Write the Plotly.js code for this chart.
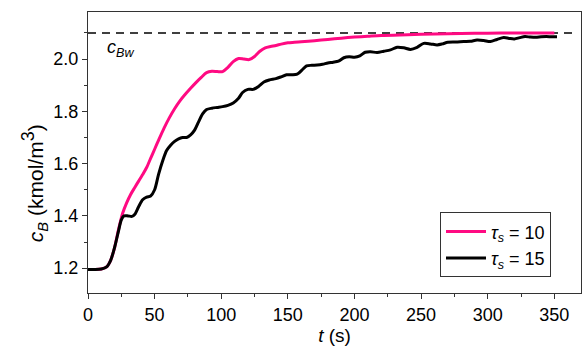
<!DOCTYPE html>
<html>
<head>
<meta charset="utf-8">
<script src="https://cdn.plot.ly/plotly-3.0.1.min.js"></script>
<style>html,body{margin:0;padding:0;background:#fff;}#chart{width:582px;height:351px;}</style>
</head>
<body>
<div id="chart"></div>
<script>
// tau_s = 10 series
const tPink = [0,5,10,14,17,20,23,26,29,32,35,38,41,44,47,50,53,57,61,65,69,73,77,81,85,89,93,97,101,105,109,113,117,121,125,129,133,137,141,145,150,155,160,170,180,190,200,210,220,240,260,280,300,320,340,350];
const cPink = [1.195,1.195,1.197,1.205,1.23,1.28,1.35,1.41,1.45,1.482,1.508,1.533,1.558,1.585,1.62,1.655,1.69,1.735,1.775,1.81,1.84,1.865,1.888,1.91,1.93,1.948,1.953,1.952,1.952,1.968,1.99,2.002,2.0,1.998,2.01,2.03,2.043,2.048,2.052,2.057,2.062,2.064,2.066,2.07,2.075,2.08,2.084,2.087,2.09,2.093,2.096,2.098,2.099,2.1,2.1,2.1];
// tau_s = 15 series
const tBlack = [0,5,10,14,17,20,23,25,27,30,33,35,38,41,44,47,50,53,56,59,62,65,68,71,74,77,80,83,86,89,93,97,101,105,109,113,116,120,124,128,132,136,141,145,149,153,157,161,164,168,172,176,180,184,188,192,196,200,204,208,212,217,222,227,232,237,242,247,252,257,262,266,270,276,282,287,292,297,302,307,312,316,320,324,328,332,336,340,344,348,352];
const cBlack = [1.195,1.195,1.197,1.205,1.23,1.28,1.345,1.385,1.40,1.40,1.398,1.405,1.435,1.462,1.472,1.476,1.50,1.56,1.61,1.65,1.67,1.685,1.695,1.70,1.70,1.71,1.728,1.76,1.79,1.807,1.812,1.815,1.818,1.823,1.832,1.85,1.872,1.884,1.884,1.895,1.912,1.92,1.925,1.932,1.94,1.94,1.942,1.96,1.974,1.976,1.977,1.98,1.985,1.988,1.992,2.005,2.009,2.007,2.012,2.026,2.028,2.025,2.03,2.035,2.045,2.043,2.037,2.045,2.06,2.058,2.054,2.058,2.064,2.065,2.067,2.068,2.073,2.071,2.067,2.075,2.082,2.079,2.077,2.082,2.086,2.084,2.083,2.085,2.086,2.085,2.085];
// wall concentration reference line
const tWall = [0,365];
const cWall = [2.1,2.1];
const legendNames = ['<i>τ</i><sub><i>s</i></sub> = 10','<i>τ</i><sub><i>s</i></sub> = 15'];
const xTicks = [0,50,100,150,200,250,300,350];
const yTicks = [1.2,1.4,1.6,1.8,2.0];
const yTickText = ['1.2','1.4','1.6','1.8','2.0'];

const FAM = 'Liberation Sans, Arial, sans-serif';
const font = {family:FAM, size:18, color:'#000'};

const traces = [
  {x:tWall, y:cWall, mode:'lines', line:{color:'#000', width:1.5, dash:'8px,6px'}, showlegend:false, hoverinfo:'skip'},
  {x:tPink, y:cPink, mode:'lines', name:legendNames[0], line:{color:'#ff0a82', width:3, shape:'spline', smoothing:0.8}},
  {x:tBlack, y:cBlack, mode:'lines', name:legendNames[1], line:{color:'#000', width:3, shape:'spline', smoothing:0.8}}
];

const axisCommon = {showgrid:false, zeroline:false, showline:true, linecolor:'#333', linewidth:1,
  ticks:'outside', ticklen:5, tickwidth:1, tickcolor:'#333', tickfont:font};

const layout = {
  width:582, height:351,
  margin:{l:88, r:1, t:12, b:58},
  paper_bgcolor:'#fff', plot_bgcolor:'#fff',
  font:font,
  showlegend:true,
  legend:{x:0.714, y:0.287, xanchor:'left', yanchor:'top', bordercolor:'#333', borderwidth:1,
    bgcolor:'#fff', font:{family:FAM, size:18, color:'#000'}, tracegroupgap:0, itemwidth:40},
  xaxis:Object.assign({}, axisCommon, {range:[0,370], tickvals:xTicks, mirror:true,
    minor:{dtick:25, tick0:0, ticks:'outside', ticklen:3, tickcolor:'#333'},
    title:{text:'<i>t</i> (s)', font:{family:FAM, size:19, color:'#000'}, standoff:2}}),
  yaxis:Object.assign({}, axisCommon, {range:[1.105,2.18], tickvals:yTicks, ticktext:yTickText, mirror:true,
    minor:{dtick:0.1, tick0:1.2, ticks:'outside', ticklen:3, tickcolor:'#333'}}),
  annotations:[
    {xref:'paper', yref:'paper', x:-0.108, y:0.39, text:'<i>c</i><sub><i>B</i></sub> (kmol/m<sup><span style="font-size:18px">3</span></sup>)', textangle:-90,
     showarrow:false, font:{family:FAM, size:21, color:'#000'}, xanchor:'center', yanchor:'middle'},
    {xref:'x', yref:'y', x:13, y:2.04, text:'<i>c</i><sub><i>Bw</i></sub>', showarrow:false, xanchor:'left', yanchor:'middle',
     font:{family:FAM, size:18, color:'#000'}}
  ]
};

Plotly.newPlot('chart', traces, layout, {displayModeBar:false, staticPlot:true});
</script>
</body>
</html>
